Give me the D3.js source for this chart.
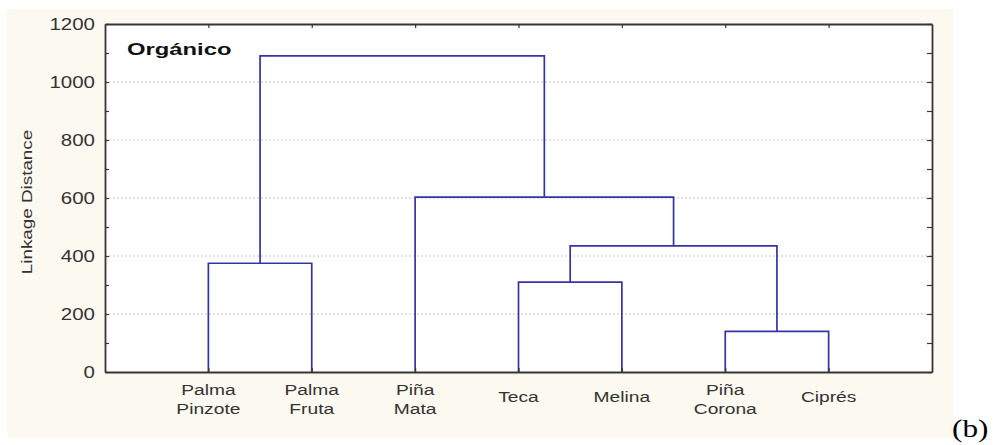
<!DOCTYPE html>
<html>
<head>
<meta charset="utf-8">
<script src="https://cdn.jsdelivr.net/npm/d3@7"></script>
<style>
  html, body { margin: 0; padding: 0; background: #ffffff; }
  svg { display: block; }
  text { font-family: "Liberation Sans", Arial, sans-serif; }
</style>
</head>
<body>
<svg id="chart" width="993" height="445"></svg>
<script>
// Leaves of the dendrogram, left to right (each label may span two lines)
const leafLabels = [
  ["Palma", "Pinzote"],
  ["Palma", "Fruta"],
  ["Piña", "Mata"],
  ["Teca"],
  ["Melina"],
  ["Piña", "Corona"],
  ["Ciprés"]
];
// Agglomeration steps: ids 0..6 are leaves, each merge creates id 7, 8, ...
const mergeLeft   = [0, 3, 5, 8, 2, 7];
const mergeRight  = [1, 4, 6, 9, 10, 11];
const mergeHeight = [375, 310, 140, 435, 603, 1090];
// Axis ticks
const yTickValues = [0, 200, 400, 600, 800, 1000, 1200];
const yMinorValues = [100, 300, 500, 700, 900, 1100];
const gridValues = [200, 400, 600, 800, 1000];
const panelTitle = "Orgánico";
const yTitle = "Linkage Distance";
const panelTag = "(b)";

const svg = d3.select("#chart");
const plotLeft = 105, plotRight = 932, plotTop = 24, plotBottom = 372;
const lineColor = "#3434a8";
const axisColor = "#363636";
const textColor = "#333333";

const x = d3.scaleLinear().domain([0, leafLabels.length + 1]).range([plotLeft, plotRight]);
const y = d3.scaleLinear().domain([0, 1200]).range([plotBottom, plotTop]);

// Cream page background and white plotting area
svg.append("rect").attr("x", 7).attr("y", 9).attr("width", 946).attr("height", 429)
  .attr("fill", "#fcf9f0");
svg.append("rect").attr("x", plotLeft).attr("y", plotTop)
  .attr("width", plotRight - plotLeft).attr("height", plotBottom - plotTop)
  .attr("fill", "#ffffff");

// Dotted horizontal grid
svg.append("g").selectAll("line").data(gridValues).join("line")
  .attr("x1", plotLeft).attr("x2", plotRight)
  .attr("y1", d => y(d)).attr("y2", d => y(d))
  .attr("stroke", "#c4c4c4").attr("stroke-width", 1).attr("stroke-dasharray", "2,2");

// Node positions: leaves at 1..n, merges at the midpoint of their children
const nodeX = leafLabels.map((_, i) => i + 1);
const nodeH = leafLabels.map(() => 0);
mergeLeft.forEach((a, i) => {
  const b = mergeRight[i];
  nodeX.push((nodeX[a] + nodeX[b]) / 2);
  nodeH.push(mergeHeight[i]);
});

// Dendrogram links (U-shaped connectors)
const links = svg.append("g").attr("fill", "none").attr("stroke", lineColor).attr("stroke-width", 1.7);
mergeLeft.forEach((a, i) => {
  const b = mergeRight[i];
  const h = mergeHeight[i];
  const p = d3.path();
  p.moveTo(x(nodeX[a]), y(nodeH[a]));
  p.lineTo(x(nodeX[a]), y(h));
  p.lineTo(x(nodeX[b]), y(h));
  p.lineTo(x(nodeX[b]), y(nodeH[b]));
  links.append("path").attr("d", p.toString());
});

// Axes frame with inward ticks
const allY = yTickValues.concat(yMinorValues);
const leafPos = leafLabels.map((_, i) => i + 1);
function styleAxis(g) {
  g.selectAll(".domain").attr("stroke", axisColor).attr("stroke-width", 1.8);
  g.selectAll(".tick line").attr("stroke", axisColor).attr("stroke-width", 1.2);
  g.selectAll(".tick text").remove();
}
svg.append("g").attr("transform", `translate(${plotLeft},0)`)
  .call(d3.axisLeft(y).tickValues(allY).tickSize(-4).tickSizeOuter(0).tickFormat(""))
  .call(styleAxis);
svg.append("g").attr("transform", `translate(${plotRight},0)`)
  .call(d3.axisRight(y).tickValues(allY).tickSize(-5).tickSizeOuter(0).tickFormat(""))
  .call(styleAxis);
svg.append("g").attr("transform", `translate(0,${plotTop})`)
  .call(d3.axisTop(x).tickValues(leafPos).tickSize(-4).tickSizeOuter(0).tickFormat(""))
  .call(styleAxis);
svg.append("g").attr("transform", `translate(0,${plotBottom})`)
  .call(d3.axisBottom(x).tickValues(leafPos).tickSize(-4).tickSizeOuter(0).tickFormat(""))
  .call(styleAxis);

// Y tick labels
svg.append("g").selectAll("text").data(yTickValues).join("text")
  .attr("transform", d => `translate(95,${y(d) + 5.8}) scale(1.28,1)`)
  .attr("text-anchor", "end")
  .attr("font-size", 16)
  .attr("fill", textColor)
  .text(d => d);

// Y axis title
svg.append("text")
  .attr("transform", "translate(32,202) rotate(-90) scale(1.3,1)")
  .attr("text-anchor", "middle")
  .attr("font-size", 14.5)
  .attr("fill", textColor)
  .text(yTitle);

// Leaf labels under the axis
const labelG = svg.append("g").attr("fill", textColor).attr("font-size", 15.5);
leafLabels.forEach((lines, i) => {
  const cx = x(i + 1);
  const base = lines.length === 1 ? 402 : 395;
  lines.forEach((t, j) => {
    labelG.append("text")
      .attr("transform", `translate(${cx},${base + j * 19}) scale(1.24,1)`)
      .attr("text-anchor", "middle")
      .text(t);
  });
});

// Panel title inside the plot
svg.append("text")
  .attr("transform", "translate(127,55) scale(1.4,1)")
  .attr("font-size", 17)
  .attr("font-weight", "bold")
  .attr("fill", "#111")
  .text(panelTitle);

// Panel tag in a serif face
svg.append("text")
  .attr("transform", "translate(952,437) scale(1.2,1)")
  .style("font-family", "'Liberation Serif', 'Times New Roman', serif")
  .attr("font-size", 26)
  .attr("fill", "#000")
  .text(panelTag);
</script>
</body>
</html>
